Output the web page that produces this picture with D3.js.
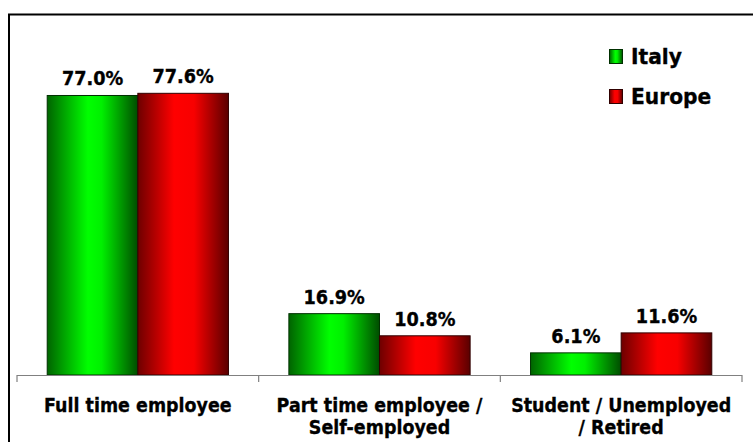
<!DOCTYPE html>
<html>
<head>
<meta charset="utf-8">
<script src="https://cdn.jsdelivr.net/npm/d3@7"></script>
<style>
  html, body { margin: 0; padding: 0; background: #fff; }
  svg { display: block; font-family: "DejaVu Sans", Verdana, sans-serif; font-weight: bold; }
  svg text { stroke: #000; stroke-width: 0.35px; }
</style>
</head>
<body>
<svg id="chart" width="753" height="442"></svg>
<script>
const categories = [
  ["Full time employee"],
  ["Part time employee /", "Self-employed"],
  ["Student / Unemployed", "/ Retired"]
];
const seriesNames = ["Italy", "Europe"];
const italy = [77.0, 16.9, 6.1];
const europe = [77.6, 10.8, 11.6];
const seriesValues = [italy, europe];

const svg = d3.select("#chart");
const W = 753, H = 442;
const SX = 0.93; // slight horizontal condensing of the bold labels

// frame around the chart area
svg.append("rect")
  .attr("x", 9).attr("y", 14.5)
  .attr("width", W + 20).attr("height", H + 20)
  .attr("fill", "#fff").attr("stroke", "#000").attr("stroke-width", 2);

// shaded fills for the two series
const defs = svg.append("defs");
const palettes = {
  Italy:  [["0%", "#006400"], ["45%", "#00ff00"], ["60%", "#00f000"], ["100%", "#004c00"]],
  Europe: [["0%", "#6e0000"], ["40%", "#ff0000"], ["62%", "#f80000"], ["100%", "#5a0000"]]
};
const strokes = { Italy: "#003000", Europe: "#300000" };
seriesNames.forEach(name => {
  const g = defs.append("linearGradient").attr("id", "grad-" + name)
    .attr("x1", "0%").attr("x2", "100%").attr("y1", "0%").attr("y2", "0%");
  palettes[name].forEach(([o, c]) => g.append("stop").attr("offset", o).attr("stop-color", c));
});

const catKeys = categories.map(c => c.join(" "));
const x0 = d3.scaleBand().domain(catKeys).range([17, 742]).paddingInner(0).paddingOuter(0);
const bw = x0.bandwidth();
const x1 = d3.scaleBand().domain(seriesNames).range([bw * 0.125, bw * 0.875]).padding(0);
const y = d3.scaleLinear().domain([0, 100]).range([375, 12]);

const rows = catKeys.map((k, i) => ({
  key: k,
  values: seriesNames.map((s, j) => ({ series: s, value: seriesValues[j][i] }))
}));

const groups = svg.append("g").selectAll("g").data(rows).join("g")
  .attr("transform", d => `translate(${x0(d.key)},0)`);

groups.selectAll("rect").data(d => d.values).join("rect")
  .attr("x", d => x1(d.series))
  .attr("y", d => y(d.value))
  .attr("width", x1.bandwidth())
  .attr("height", d => y(0) - y(d.value))
  .attr("fill", d => `url(#grad-${d.series})`)
  .attr("stroke", d => strokes[d.series])
  .attr("stroke-width", 1);

groups.selectAll("text.val").data(d => d.values).join("text")
  .attr("class", "val")
  .attr("transform", d => `translate(${x1(d.series) + x1.bandwidth() / 2},${y(d.value) - 10}) scale(${SX},1)`)
  .attr("text-anchor", "middle")
  .attr("font-size", 19)
  .attr("fill", "#000")
  .text(d => d.value.toFixed(1) + "%");

// category axis: baseline with boundary ticks
const axis = svg.append("g");
axis.append("line")
  .attr("x1", x0.range()[0]).attr("x2", x0.range()[1])
  .attr("y1", y(0) + 0.5).attr("y2", y(0) + 0.5)
  .attr("stroke", "#808080").attr("stroke-width", 1.2);
const boundaries = catKeys.map(k => x0(k)).concat([x0.range()[1]]);
axis.selectAll("line.tick").data(boundaries).join("line")
  .attr("class", "tick")
  .attr("x1", d => d).attr("x2", d => d)
  .attr("y1", y(0)).attr("y2", y(0) + 7)
  .attr("stroke", "#808080").attr("stroke-width", 1.2);

axis.selectAll("text.cat").data(categories).join("text")
  .attr("class", "cat")
  .attr("transform", (d, i) => `translate(${x0(catKeys[i]) + bw / 2},411.5) scale(0.92,1)`)
  .attr("text-anchor", "middle")
  .attr("font-size", 19)
  .attr("fill", "#000")
  .selectAll("tspan").data(d => d).join("tspan")
  .attr("x", 0)
  .attr("dy", (d, i) => i === 0 ? 0 : 23)
  .text(d => d);

// legend
const legend = svg.append("g").selectAll("g").data(seriesNames).join("g")
  .attr("transform", (d, i) => `translate(609,${49 + i * 40})`);
legend.append("rect")
  .attr("x", 0.5).attr("y", 0.5).attr("width", 13).attr("height", 14)
  .attr("fill", d => `url(#grad-${d})`)
  .attr("stroke", d => strokes[d]).attr("stroke-width", 1);
legend.append("text")
  .attr("transform", "translate(22,15) scale(0.92,1)")
  .attr("font-size", 22)
  .attr("fill", "#000")
  .text(d => d);
</script>
</body>
</html>
